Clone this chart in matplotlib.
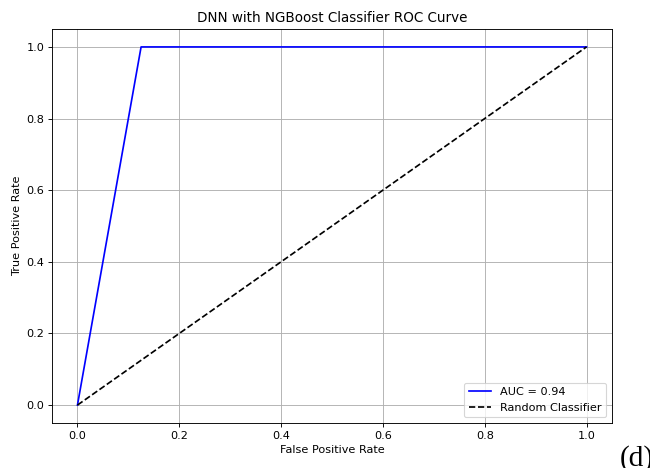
import matplotlib
matplotlib.use('Agg')
from matplotlib import pyplot as plt

# ROC curve points
fpr = [0.0, 0.125, 1.0]
tpr = [0.0, 1.0, 1.0]
auc_value = 0.94
rand_x = [0, 1]
rand_y = [0, 1]

fig = plt.figure(figsize=(8, 5.76), dpi=81.25)
ax = fig.add_axes([0.08, 0.0962, 0.8615, 0.8418])

ax.plot(fpr, tpr, color='blue', label=f'AUC = {auc_value:.2f}')
ax.plot(rand_x, rand_y, 'k--', label='Random Classifier')

ax.set_title('DNN with NGBoost Classifier ROC Curve')
ax.set_xlabel('False Positive Rate')
ax.set_ylabel('True Positive Rate')
ax.legend(loc='lower right')
ax.grid(True)

# panel label, partly cut at the figure edge
fig.text(0.953, 0.004, '(d)', fontsize=26, family='Liberation Serif', va='baseline')

fig.savefig('out.png', dpi=81.25)
